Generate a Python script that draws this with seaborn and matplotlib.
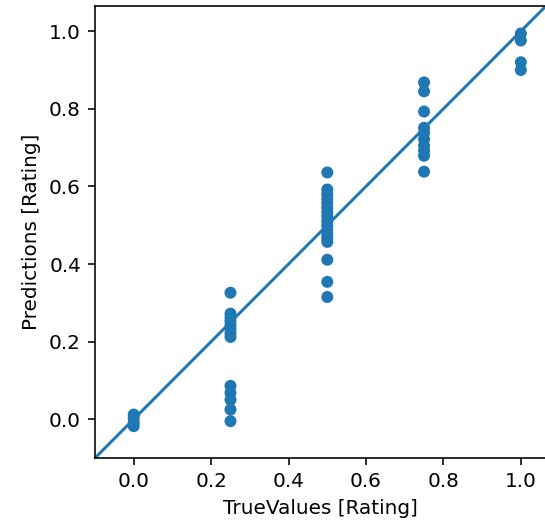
import numpy as np
import pandas as pd
import matplotlib
matplotlib.use("Agg")
import matplotlib.pyplot as plt
import seaborn as sns

# Data
true_0 = [0.0, 0.0, 0.0, 0.0]
pred_0 = [0.012, 0.003, -0.008, -0.018]

true_25 = [0.25] * 13
pred_25 = [0.326, 0.272, 0.262, 0.252, 0.242, 0.232, 0.222, 0.212,
           0.086, 0.068, 0.050, 0.025, -0.005]

true_50 = [0.5] * 17
pred_50 = [0.636, 0.592, 0.580, 0.568, 0.556, 0.545, 0.534, 0.522, 0.510,
           0.498, 0.486, 0.475, 0.466, 0.457, 0.411, 0.354, 0.315]

true_75 = [0.75] * 10
pred_75 = [0.868, 0.845, 0.793, 0.751, 0.738, 0.722, 0.705, 0.692, 0.679, 0.638]

true_100 = [1.0] * 4
pred_100 = [0.994, 0.976, 0.920, 0.900]

lims = [-0.1, 1.065]
ticks = [0.0, 0.2, 0.4, 0.6, 0.8, 1.0]

df = pd.DataFrame({
    "true": true_0 + true_25 + true_50 + true_75 + true_100,
    "pred": pred_0 + pred_25 + pred_50 + pred_75 + pred_100,
})

plt.rcParams["font.size"] = 10
fig = plt.figure(figsize=(545 / 144, 529 / 144), dpi=144)
ax = fig.add_axes([95 / 545, (529 - 458) / 529, 451 / 545, 452 / 529])

sns.scatterplot(data=df, x="true", y="pred", ax=ax, color="#1f77b4",
                s=36, linewidth=0, edgecolor="none")
ax.plot(lims, lims, color="#1f77b4", lw=1.5)
ax.set_xlim(lims)
ax.set_ylim(lims)
ax.set_xticks(ticks)
ax.set_yticks(ticks)
ax.set_xlabel("TrueValues [Rating]")
ax.set_ylabel("Predictions [Rating]")

fig.savefig("out.png", dpi=144)
